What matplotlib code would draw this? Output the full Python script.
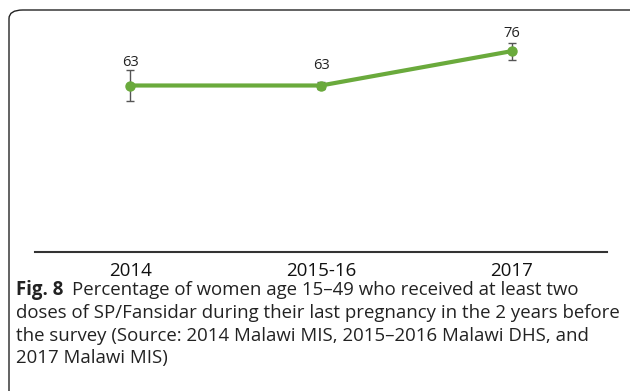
import matplotlib.pyplot as plt
from matplotlib.patches import FancyBboxPatch

years = ['2014', '2015-16', '2017']
pct = [63, 63, 76]
err_low = [6.0, 1.5, 3.5]
err_high = [6.0, 1.5, 3.2]

green = '#6aaa3c'
dark = '#222222'

fig = plt.figure(figsize=(6.3, 3.91), dpi=100)

# rounded frame around the figure panel (only top and left edges are visible)
frame = FancyBboxPatch((9 / 630, -0.2), 1.2, 1 - 10 / 391 + 0.2,
                       boxstyle='round,pad=0,rounding_size=0.022',
                       transform=fig.transFigure, fill=False,
                       edgecolor=dark, linewidth=1.0)
fig.patches.append(frame)

ax = fig.add_axes([35 / 630, 1 - 252 / 391, (607 - 35) / 630, (252 - 30) / 391])
x = range(len(years))
ax.errorbar(x, pct, yerr=[err_low, err_high], color=green, linewidth=3,
            marker='o', markersize=6.5, ecolor='#555555', elinewidth=1,
            capsize=3, capthick=1)
label_off = [23, 20, 18]  # pixels above each point
for i, v in enumerate(pct):
    ax.annotate(str(v), (i, v), xytext=(0, label_off[i] * 0.72),
                textcoords='offset points', ha='center', va='center',
                fontsize=10.5, family='Open Sans', color=dark)

ax.set_xlim(-0.5, 2.5)
ax.set_ylim(0, 84)
ax.set_xticks(list(x))
ax.set_xticklabels(years, fontsize=13.5, family='Open Sans', color='#111111')
ax.tick_params(axis='x', length=0, pad=7)
ax.set_yticks([])
for s in ['left', 'right', 'top']:
    ax.spines[s].set_visible(False)
ax.spines['bottom'].set_color('#333333')
ax.spines['bottom'].set_linewidth(1.5)

# caption
cap_x = 16 / 630
cap_fs = 13.4
first = fig.text(cap_x, 1 - 290 / 391, 'Fig. 8', fontsize=cap_fs, fontweight='bold',
                 family='Open Sans', va='center', color=dark)
fig.canvas.draw()
bb = first.get_window_extent(renderer=fig.canvas.get_renderer())
fig.text((bb.x1 + 9) / 630, 1 - 290 / 391,
         'Percentage of women age 15\u201349 who received at least two',
         fontsize=cap_fs, family='Open Sans', va='center', color=dark)
lines = ['doses of SP/Fansidar during their last pregnancy in the 2 years before',
         'the survey (Source: 2014 Malawi MIS, 2015\u20132016 Malawi DHS, and',
         '2017 Malawi MIS)']
for k, t in enumerate(lines):
    fig.text(cap_x, 1 - (313 + 22.7 * k) / 391, t, fontsize=cap_fs,
             family='Open Sans', va='center', color=dark)

fig.savefig('out.png', dpi=100)
